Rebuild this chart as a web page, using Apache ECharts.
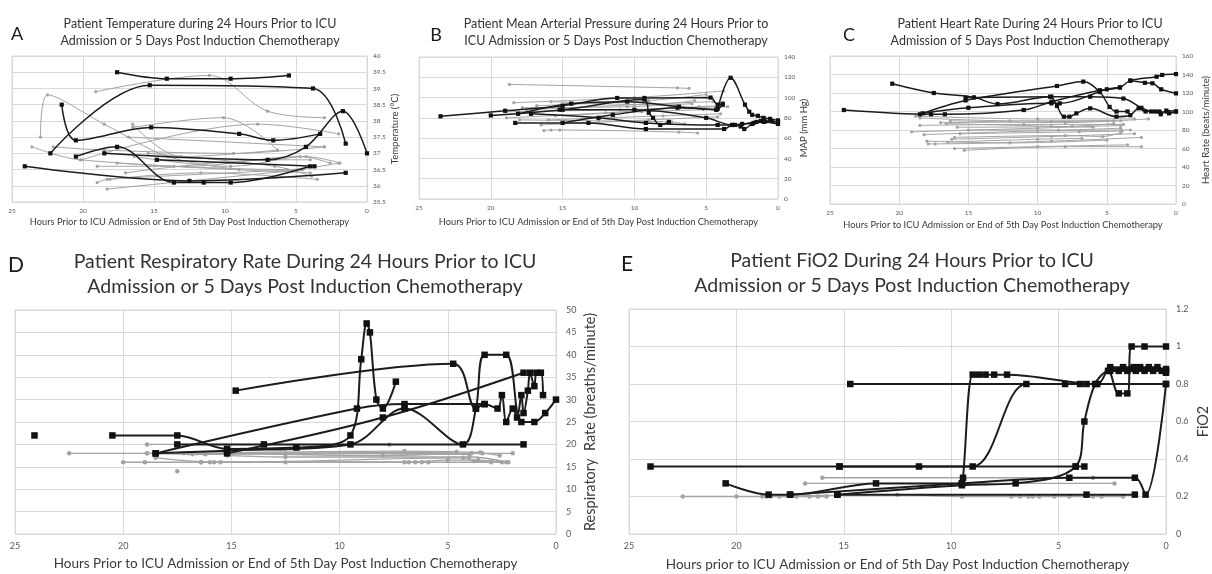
<!DOCTYPE html>
<html><head><meta charset="utf-8">
<script src="https://cdn.jsdelivr.net/npm/echarts/dist/echarts.min.js"></script>
<style>html,body{margin:0;padding:0;background:#fff}#c{width:1212px;height:574px}</style>
</head><body><div id="c"></div>
<script>
// ---------- DATA: each line is [hours before ICU, value] ----------
const tempDark = [
  [[17.6,39.5],[14.1,39.3],[9.6,39.3],[5.5,39.4]],
  [[22.3,37.0],[15.3,39.1],[3.8,39.0],[1.5,37.3]],
  [[21.5,38.5],[20.5,37.4],[15.2,37.8],[9.0,37.6],[6.6,37.4],[3.3,37.6]],
  [[20.5,36.9],[17.6,37.2],[13.6,36.1],[11.5,36.1],[9.6,36.1],[4.0,36.6]],
  [[18.5,37.0],[7.0,36.8],[4.3,37.2],[1.7,38.3],[0,37.0]],
  [[24.1,36.6],[12.5,36.15],[1.5,36.4]],
  [[14.8,36.8],[3.7,36.6]]
];
const tempGray = [
  [[23.0,37.5],[22.5,38.8],[18.5,37.9],[14.0,36.9],[9.0,36.5]],
  [[19.1,38.9],[11.1,39.4],[7.0,38.3],[3.0,38.1]],
  [[23.6,37.2],[20.2,36.8],[4.0,36.4]],
  [[22.1,37.2],[18.5,37.1],[9.4,37.0],[3.0,37.2]],
  [[16.5,37.9],[13.1,36.9],[6.3,37.1]],
  [[16.5,37.8],[10.1,38.1],[6.3,37.1]],
  [[16.8,37.5],[3.0,37.2]],
  [[20.1,36.8],[7.7,37.9],[2.0,37.6]],
  [[19.0,36.6],[12.7,36.6],[4.7,36.9],[2.6,36.7]],
  [[19.0,36.1],[18.3,36.2],[4.6,36.5]],
  [[18.3,35.9],[4.5,36.5]],
  [[17.6,36.7],[13.6,36.6],[5.6,36.5],[2.0,36.7]],
  [[18.1,36.2],[11.7,36.4],[3.5,36.2]],
  [[16.4,36.9],[9.6,36.6],[4.3,36.9],[1.9,36.7]],
  [[15.4,37.0],[6.5,36.6],[3.9,36.3]],
  [[17.0,36.4],[6.8,36.8],[4.0,36.8]]
];
const mapDark = [
  [[23.5,81.5],[19,87],[15.0,92],[11.2,99.6],[9.3,99.6],[4.7,100],[4.2,93],[3.85,94]],
  [[4.2,89],[3.3,119.5],[2.3,93],[2.0,86],[1.8,83],[1.4,82],[1.0,80],[0.55,79],[0,77.5]],
  [[20.0,82.4],[15.0,88],[9.3,98],[9.0,85],[8.7,80],[8.2,73],[7.6,76]],
  [[18.1,84],[14.4,94],[10.5,96],[6.9,91],[4.3,88],[3.85,93]],
  [[18.3,75],[13.2,75],[9.2,69],[3.75,69],[3.15,73],[2.6,71.5],[2.35,69],[1.8,74],[1.0,76],[0,74]],
  [[17.2,84],[12.5,80],[9.2,75],[4.2,73],[3.0,73],[1.5,76],[0.9,76.5],[0,76]],
  [[15.0,75],[11.5,83],[7.0,90],[4.3,88]],
  [[15.2,88],[10,88],[5,80],[3.2,73],[2.5,74],[1.7,75],[1.2,77],[0.4,77]]
];
const mapGray = [
  [[18.7,113],[7.0,109.5],[6.2,109]],
  [[18.4,95],[10,100],[3.8,106.5]],
  [[16.3,67.5],[15.8,68],[15.2,68],[6.9,66],[5.6,65]],
  [[18.9,80],[12,85],[5.5,91],[4.0,92]],
  [[17.5,88],[10,93],[4.5,96]],
  [[16.8,92],[9.0,97],[5.0,103]],
  [[16.5,73],[9,78],[4.2,81]],
  [[19.0,86],[11,88],[3.5,91]],
  [[16.0,78],[8,82],[4.0,84]],
  [[15.5,82],[9.5,86],[5.2,88]],
  [[17.8,90],[10.5,91],[6.0,94]],
  [[15.8,96],[9,93],[5.8,97]],
  [[18.0,78],[12.5,77],[7.4,76],[6.5,74]]
];
const hrDark = [
  [[24.0,101.6],[17.7,97],[16.7,97],[11.0,101.6],[9.0,110.6],[5.5,123],[4.05,126],[3.3,133.4],[1.4,137.6],[1.0,139.5],[0,140.5]],
  [[20.5,130],[17.5,120],[14.6,115.3],[12.9,108.1],[9.1,116],[8.6,106],[8.1,94.4],[7.7,94.4],[7.2,98],[6.2,103.4],[4.3,94.4],[3.3,96],[2.7,103.5],[2.2,100],[1.5,100],[1.1,97],[0.7,101],[0,100]],
  [[18.5,97],[15.2,112],[8.6,127.6],[6.7,132.3],[5.5,121],[4.8,105],[4.3,100],[3.5,100]],
  [[15.2,115],[9.0,116],[6.2,116],[3.8,114],[2.5,104],[1.8,100],[1.2,100],[0.5,98],[0,100]],
  [[3.3,133.4],[2.25,131],[1.7,130.5],[1.07,124],[0,119.6]],
  [[18.3,98],[15.0,104],[9.0,108.8],[8.4,108.8],[5.0,124],[4.05,126]]
];
const hrGray = [
  [[18.8,95],[10,92],[3.0,92]],
  [[18.5,93],[12,90],[4,90]],
  [[19.1,78],[10,82],[4,85]],
  [[18.5,85],[11,86],[3.8,86]],
  [[18.2,75],[10,79],[3.3,80]],
  [[17.9,65],[17.4,65],[9,68],[2.5,72]],
  [[17.0,88],[9,89],[4.5,90]],
  [[16.3,90],[8,88],[2,92]],
  [[16.0,60],[10,62],[3.5,64]],
  [[15.3,58],[8,62],[2.5,62]],
  [[16.2,70],[9,73],[3.0,76]],
  [[16.0,72],[8,74],[5.3,73],[4.0,77]],
  [[15.8,83],[7.5,84],[4.5,87]],
  [[16.5,67],[10,70],[6.8,71]],
  [[15.0,80],[8.5,80],[4.0,82]],
  [[16.6,87],[9,84],[6,83]],
  [[15.6,76],[7,78],[3.9,79]],
  [[18.0,68],[12,66],[5,69]]
];
const rrDark = [
  [[24.1,22]],
  [[20.5,22],[17.5,22],[15.2,19],[12.0,19.3],[9.5,22],[9.0,39],[8.75,47],[8.6,45],[8.3,30],[8.0,28],[7.4,34]],
  [[17.5,20],[13.5,20],[1.5,20]],
  [[18.5,18],[15.2,18.6],[9.5,20],[7.0,28],[4.3,20],[3.7,28],[3.3,40],[2.3,40],[1.6,25],[1.0,25],[0.5,27],[0,30]],
  [[14.8,32],[4.75,38],[3.7,28],[3.3,29],[2.7,28],[2.5,31],[2.3,25],[2.0,28],[1.8,26],[1.6,31],[1.5,27],[1.3,32],[1.2,36],[1.0,33],[0.9,36],[0.7,36],[0.6,31]],
  [[18.5,18],[9.2,28],[7.0,29],[3.3,29]],
  [[15.2,18],[8.0,26],[1.5,36]]
];
const rrGray = [
  [[22.5,18],[18.9,18],[16.6,18],[2.0,18]],
  [[20.0,16],[19.0,16],[16.4,16],[12.5,16],[7.0,16],[5.0,16.5],[3.6,16.5],[2.3,16]],
  [[18.9,20],[7.7,20]],
  [[18.9,18],[16.2,17.8],[12.5,18],[4.0,17.8]],
  [[17.5,14]],
  [[17.0,18],[16.3,18],[8.0,17.5],[3.9,18],[3.4,18],[2.6,17.5]],
  [[16.4,16],[15.8,16],[6.8,16],[6.2,16],[5.9,16]],
  [[18.5,17],[15.5,16],[4.3,17],[3.8,16.3],[3.0,16]],
  [[16.8,17.8],[4.6,18.3]],
  [[15.2,17.5],[12.5,17.2],[4.0,17.2],[2.2,16]],
  [[17.2,18],[7,18.5],[3.5,18.2]],
  [[16.0,16],[6.5,16],[2.5,16]]
];
const fio2Dark = [
  [[24.0,0.36],[15.2,0.36],[4.2,0.36],[3.8,0.36]],
  [[15.2,0.36],[11.5,0.36],[9.0,0.36],[6.5,0.8],[4.7,0.8],[4.0,0.8],[3.7,0.8]],
  [[14.7,0.8],[0,0.8]],
  [[20.5,0.27],[18.5,0.21],[17.5,0.21],[13.5,0.27],[9.5,0.27],[9.45,0.3],[9.0,0.85],[8.7,0.85],[8.4,0.85],[8.0,0.85],[7.4,0.85],[3.2,0.8],[2.6,0.88],[1.6,0.88],[0,0.88]],
  [[15.3,0.21],[9.5,0.26],[7.0,0.27],[4.2,0.36],[3.8,0.6],[3.3,0.8],[2.7,0.87],[2.2,0.75],[1.8,0.75],[1.6,1.0],[1.0,1.0],[0,1.0]],
  [[17.5,0.21],[9.5,0.27],[4.5,0.3],[1.45,0.3],[0.95,0.21],[0,0.8]],
  [[15.3,0.21],[3.7,0.21],[1.45,0.21]],
  [[2.6,0.87],[2.2,0.87],[1.8,0.87],[1.4,0.87],[1.0,0.87],[0.6,0.87],[0.2,0.87],[0,0.87]],
  [[2.6,0.89],[2.0,0.89],[1.5,0.89],[1.2,0.89],[0.8,0.89],[0.4,0.89],[0,0.86]]
];
const fio2Gray = [
  [[22.5,0.2],[20.0,0.2],[18.8,0.2],[18.4,0.2],[18.0,0.2],[17.2,0.2],[16.6,0.2],[16.2,0.2],[15.8,0.2]],
  [[16.0,0.3],[3.4,0.3]],
  [[16.8,0.27],[2.4,0.27]],
  [[18.6,0.2],[12.5,0.21],[9.5,0.2],[7.2,0.2],[6.8,0.2],[6.4,0.2],[6.2,0.2],[5.9,0.2],[5.2,0.2],[4.5,0.2],[3.4,0.2],[3.0,0.2],[2.0,0.2]]
];
const hourAxis = {min: 0, max: 25, interval: 5};
const xNameA = 'Hours Prior to ICU Admission or End of 5th Day Post Induction Chemotherapy';
const xNameE = 'Hours prior to ICU Admission or End of 5th Day Post Induction Chemotherapy';

// ---------- LAYOUT ----------
const FONT = 'Lato, "Noto Sans", sans-serif';
const panels = [
  {dark: tempDark, gray: tempGray, grid: {left: 12, top: 56, width: 355, height: 146},
   y: {min: 35.5, max: 40, interval: 0.5}, yName: 'Temperature (°C)', xName: xNameA, big: false,
   xGap: 15, yGap: 22, title: ['Patient Temperature during 24 Hours Prior to ICU', 'Admission or 5 Days Post Induction Chemotherapy'],
   tx: 200, letter: 'A', lx: 17, ly: 34},
  {dark: mapDark, gray: mapGray, grid: {left: 419, top: 57, width: 359, height: 142},
   y: {min: 0, max: 140, interval: 20}, yName: 'MAP (mm Hg)', xName: xNameA, big: false,
   xGap: 18, yGap: 21, title: ['Patient Mean Arterial Pressure during 24 Hours Prior to', 'ICU Admission or 5 Days Post Induction Chemotherapy'],
   tx: 616, letter: 'B', lx: 436, ly: 35},
  {dark: hrDark, gray: hrGray, grid: {left: 830, top: 56, width: 357, height: 148},
   y: {min: 0, max: 160, interval: 20}, yName: 'Heart Rate (beats/minute)', xName: xNameA, big: false,
   xGap: 16, yGap: 25, title: ['Patient Heart Rate During 24 Hours Prior to ICU', 'Admission of 5 Days Post Induction Chemotherapy'],
   tx: 1030, letter: 'C', lx: 849, ly: 35},
  {dark: rrDark, gray: rrGray, grid: {left: 15, top: 310, width: 541, height: 224},
   y: {min: 0, max: 50, interval: 5}, yName: 'Respiratory  Rate (breaths/minute)', xName: xNameA, big: true,
   xGap: 23, yGap: 27, title: ['Patient Respiratory Rate During 24 Hours Prior to ICU', 'Admission or 5 Days Post Induction Chemotherapy'],
   tx: 305, letter: 'D', lx: 16, ly: 265},
  {dark: fio2Dark, gray: fio2Gray, grid: {left: 629, top: 309, width: 540, height: 225},
   y: {min: 0, max: 1.2, interval: 0.2}, yName: 'FiO2', xName: xNameE, big: true,
   xGap: 24, yGap: 30, title: ['Patient FiO2 During 24 Hours Prior to ICU', 'Admission or 5 Days Post Induction Chemotherapy'],
   tx: 912, letter: 'E', lx: 627, ly: 264}
];

const grids = [], xAxes = [], yAxes = [], series = [], graphics = [];
const gridColor = '#d9d9d9';
panels.forEach((p, i) => {
  grids.push(Object.assign({show: true, borderColor: gridColor, borderWidth: 1, containLabel: false}, p.grid));
  const tickSize = p.big ? 9 : 6.5;
  const nameSize = p.big ? 13.5 : 9.3;
  xAxes.push({
    type: 'value', gridIndex: i, min: hourAxis.min, max: hourAxis.max, interval: hourAxis.interval, inverse: true,
    axisLine: {show: false}, axisTick: {show: false},
    splitLine: {show: true, lineStyle: {color: gridColor, width: 1}},
    axisLabel: {fontSize: tickSize, color: '#595959', fontFamily: FONT, margin: p.big ? 8 : 5},
    name: p.xName, nameLocation: 'middle', nameGap: p.xGap,
    nameTextStyle: {fontSize: nameSize, color: '#3a3a3a', fontFamily: FONT}
  });
  yAxes.push({
    type: 'value', gridIndex: i, position: 'right', min: p.y.min, max: p.y.max, interval: p.y.interval,
    axisLine: {show: false}, axisTick: {show: false},
    splitLine: {show: true, lineStyle: {color: gridColor, width: 1}},
    axisLabel: {fontSize: tickSize, color: '#595959', fontFamily: FONT, margin: p.big ? 10 : 6},
    name: p.yName, nameLocation: 'middle', nameRotate: 90, nameGap: p.yGap,
    nameTextStyle: {fontSize: p.big ? 14.5 : 9.5, color: '#3a3a3a', fontFamily: FONT}
  });
  p.gray.forEach(line => series.push({
    type: 'line', xAxisIndex: i, yAxisIndex: i, data: line, smooth: 0.35,
    symbol: 'circle', symbolSize: p.big ? 4.5 : 3.2, showSymbol: true,
    lineStyle: {color: '#a3a3a3', width: p.big ? 1.4 : 1}, itemStyle: {color: '#a3a3a3'},
    z: 2, silent: true, animation: false
  }));
  p.dark.forEach(line => series.push({
    type: 'line', xAxisIndex: i, yAxisIndex: i, data: line, smooth: 0.35,
    symbol: 'rect', symbolSize: p.big ? 6.5 : 4.2, showSymbol: true,
    lineStyle: {color: '#1c1c1c', width: p.big ? 2 : 1.5}, itemStyle: {color: '#111'},
    z: 3, silent: true, animation: false
  }));
  const tSize = p.big ? 19.5 : 12.5;
  const y1 = p.big ? p.ly - 3 : 24, y2 = p.big ? p.ly + 22 : 41;
  graphics.push({type: 'text', x: p.tx, y: y1, style: {text: p.title[0], x: 0, y: 0, textAlign: 'center', textVerticalAlign: 'middle', fontSize: tSize, fontFamily: FONT, fill: '#333'}});
  graphics.push({type: 'text', x: p.tx, y: y2, style: {text: p.title[1], x: 0, y: 0, textAlign: 'center', textVerticalAlign: 'middle', fontSize: tSize, fontFamily: FONT, fill: '#333'}});
  graphics.push({type: 'text', x: p.lx, y: p.ly, style: {text: p.letter, x: 0, y: 0, textAlign: 'center', textVerticalAlign: 'middle', fontSize: p.big ? 21 : 18, fontFamily: FONT, fill: '#1a1a1a'}});
});

const chart = echarts.init(document.getElementById('c'), null, {renderer: 'canvas'});
chart.setOption({
  backgroundColor: '#ffffff', animation: false,
  grid: grids, xAxis: xAxes, yAxis: yAxes, series: series, graphic: graphics
});
</script></body></html>
